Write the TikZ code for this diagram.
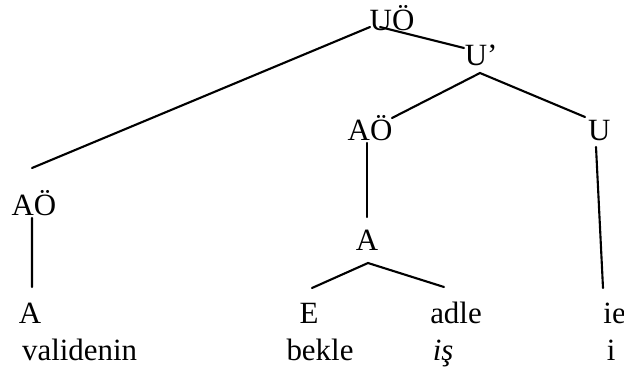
\documentclass[tikz,border=0pt]{standalone}
\usepackage{fontspec}
\setmainfont{Liberation Serif}

\begin{document}
\begin{tikzpicture}[every node/.style={inner sep=0pt, anchor=base, font=\fontsize{22}{24}\selectfont},
    branch/.style={line width=1.5pt, line cap=round}]
  \useasboundingbox (0,0) rectangle (15.6,9.2);
  % categories
  \node (uo) at (9.8,8.45) {UÖ};
  \node (ubar) at (12.03,7.575) {U’};
  \node (aom) at (9.25,5.7) {AÖ};
  \node (u) at (14.98,5.7) {U};
  \node (aol) at (0.85,3.825) {AÖ};
  \node (am) at (9.175,2.95) {A};
  \node (al) at (0.75,1.125) {A};
  \node (e) at (7.725,1.125) {E};
  \node (adle) at (11.4,1.125) {adle};
  \node[anchor=base west] (ie) at (15.08,1.125) {ie};
  % words
  \node (validenin) at (1.99,0.2) {validenin};
  \node (bekle) at (8.0,0.2) {bekle};
  \node (is) at (11.08,0.2) {\textit{iş}};
  \node (i) at (15.28,0.2) {i};
  % branches
  \draw[branch] ([shift={(-0.55,0.075)}]uo.base) -- ([shift={(-0.05,1.175)}]aol.base);
  \draw[branch] ([shift={(-0.3,0.075)}]uo.base) -- ([shift={(-0.43,0.425)}]ubar.base);
  \draw[branch] ([shift={(0.55,0.55)}]aom.base) -- ([shift={(-0.03,-0.2)}]ubar.base)
    -- ([shift={(-0.355,0.575)}]u.base);
  \draw[branch] ([shift={(-0.075,-0.075)}]aom.base) -- ([shift={(0,0.825)}]am.base);
  \draw[branch] ([shift={(-0.08,-0.175)}]u.base) -- ([shift={(-0.005,0.875)}]ie.base west);
  \draw[branch] ([shift={(-0.05,-0.075)}]aol.base) -- ([shift={(0.05,0.9)}]al.base);
  \draw[branch] ([shift={(0.075,0.875)}]e.base) -- ([shift={(0.025,-0.325)}]am.base)
    -- ([shift={(-0.3,0.9)}]adle.base);
\end{tikzpicture}
\end{document}
